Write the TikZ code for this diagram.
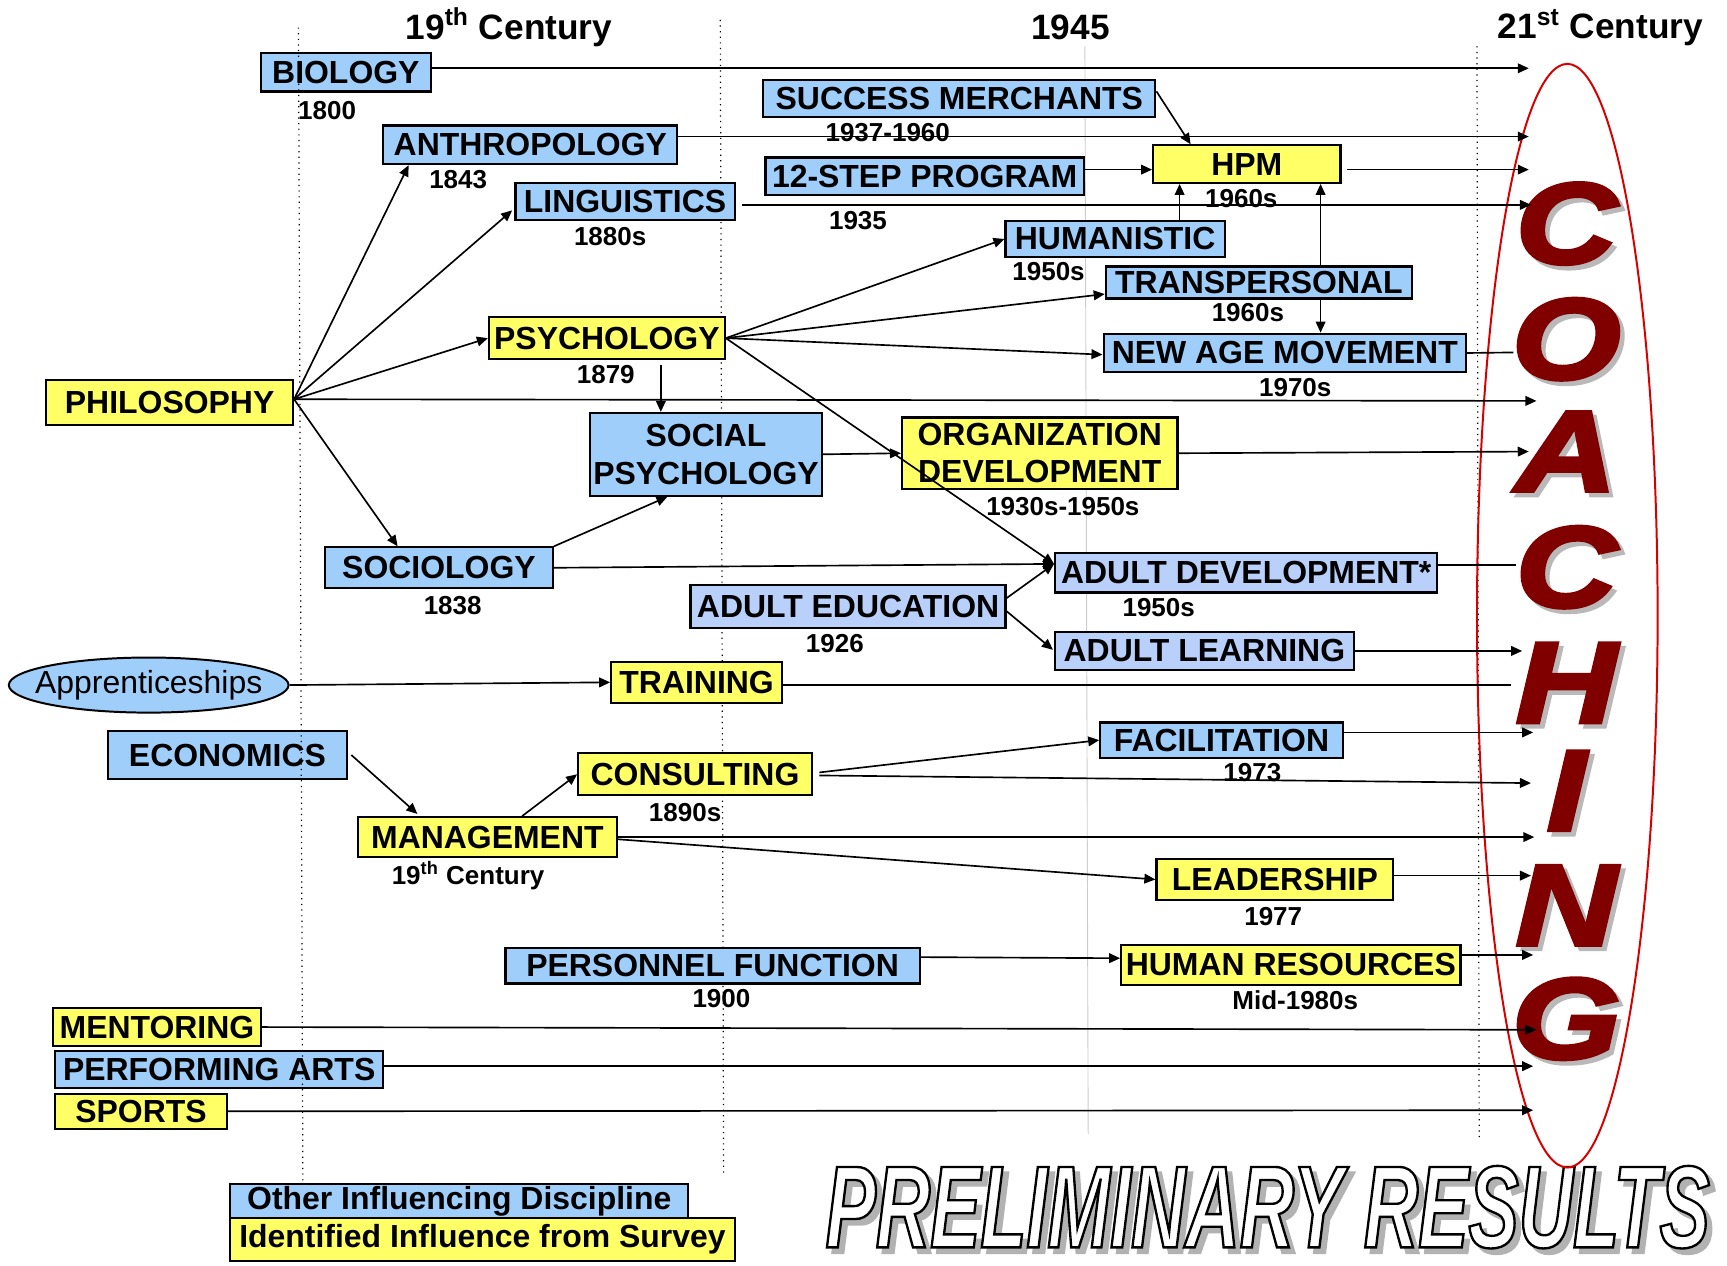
\documentclass[tikz,border=0pt]{standalone}
\usepackage{fontspec}
\setmainfont{Liberation Sans}
\newfontfamily\coachfont{Liberation Sans}[FakeBold=3.5,FakeStretch=1.22]
\newfontfamily\prelfont{Liberation Sans}[FakeBold=2,FakeStretch=0.645]
\usetikzlibrary{arrows.meta,calc,shapes.geometric}
\definecolor{bblue}{RGB}{160,206,250}
\definecolor{ablue}{RGB}{184,208,250}
\definecolor{byel}{RGB}{255,255,102}
\definecolor{dred}{RGB}{128,0,0}
\definecolor{ered}{RGB}{215,0,0}
\begin{document}
\begin{tikzpicture}[x=0.5pt,y=-0.5pt,
  box/.style={draw=black,line width=1pt,inner sep=0pt,align=center,
    font=\fontsize{14.5}{17}\selectfont\bfseries},
  bl/.style={box,fill=bblue},
  yl/.style={box,fill=byel},
  al/.style={box,fill=ablue},
  date/.style={inner sep=0pt,font=\fontsize{11.8}{13}\selectfont\bfseries},
  hdr/.style={inner sep=0pt,font=\fontsize{16}{18}\selectfont\bfseries},
  arr/.style={-{Triangle[length=5pt,width=4.4pt]},line width=0.75pt},
  ln/.style={line width=0.75pt},
  guide/.style={dotted,line width=0.55pt},
  coach/.style={inner sep=0pt,font=\coachfont\fontsize{52}{52}\selectfont\bfseries\itshape},
  prel/.style={inner sep=0pt,font=\prelfont\fontsize{53}{53}\selectfont\bfseries\itshape}]
\useasboundingbox (0,0) rectangle (1568,1149);

% PRELIMINARY RESULTS (outlined text with shadow)
\node[prel,text=gray!60] (prs) at (1156,1101) {PRELIMINARY RESULTS};
\node[prel,text=white] (prt) at (1151,1096) {\special{pdf:literal direct 0 G}PRELIMINARY RESULTS};

% guide lines (behind)
\draw[guide] (654,18) -- (657,1065);
\draw[gray!40,line width=0.4pt] (985,42) -- (988,1030);
\draw[guide] (1341,42) -- (1343,1035);

% headers
\node[hdr] (h1) at (462,25) {19\textsuperscript{th} Century};
\node[hdr] (h2) at (972,25) {1945};
\node[hdr] (h3) at (1453,25) {21\textsuperscript{st} Century};

% boxes
\node[bl,minimum width=77pt,minimum height=17.5pt] (bio) at (314,65.5) {BIOLOGY};
\node[bl,minimum width=178pt,minimum height=16.5pt] (sm) at (871,89.5) {SUCCESS MERCHANTS};
\node[bl,minimum width=133.5pt,minimum height=17.5pt] (anth) at (481.5,131.5) {ANTHROPOLOGY};
\node[bl,minimum width=144.5pt,minimum height=17pt] (step) at (839.5,160) {12-STEP PROGRAM};
\node[yl,minimum width=85pt,minimum height=17pt] (hpm) at (1132,149) {HPM};
\node[bl,minimum width=99.5pt,minimum height=17pt] (ling) at (567.5,183) {LINGUISTICS};
\node[bl,minimum width=99.5pt,minimum height=16pt] (hum) at (1012.5,217) {HUMANISTIC};
\node[bl,minimum width=139pt,minimum height=14.5pt] (trans) at (1143,256.5) {TRANSPERSONAL};
\node[yl,minimum width=107pt,minimum height=19pt] (psych) at (551,307) {PSYCHOLOGY};
\node[bl,minimum width=164.5pt,minimum height=17.5pt] (newage) at (1166.5,320.5) {NEW AGE MOVEMENT};
\node[yl,minimum width=112pt,minimum height=20.5pt] (phil) at (154,365.5) {PHILOSOPHY};
\node[bl,minimum width=105pt,minimum height=37.5pt] (socpsy) at (641,412.5) {SOCIAL\\PSYCHOLOGY};
\node[yl,minimum width=125pt,minimum height=32.5pt] (orgdev) at (944,411.5) {ORGANIZATION\\DEVELOPMENT};
\node[bl,minimum width=103.5pt,minimum height=18.5pt] (soc) at (398.5,515.5) {SOCIOLOGY};
\node[al,minimum width=173.5pt,minimum height=18pt] (adev) at (1131.5,520) {ADULT DEVELOPMENT*};
\node[al,minimum width=143pt,minimum height=19.5pt] (aedu) at (770,550.5) {ADULT EDUCATION};
\node[al,minimum width=135.5pt,minimum height=17pt] (alearn) at (1093.5,591) {ADULT LEARNING};
\node[draw=black,ellipse,fill=bblue,line width=0.9pt,inner sep=0pt,minimum width=127pt,minimum height=25pt,
  font=\fontsize{14.5}{16}\selectfont] (appr) at (135,622) {\makebox[0pt]{Apprenticeships}};
\node[yl,minimum width=77.5pt,minimum height=18.5pt] (train) at (632.5,619.5) {TRAINING};
\node[bl,minimum width=108.5pt,minimum height=21.5pt] (econ) at (206.5,685.5) {ECONOMICS};
\node[bl,minimum width=110pt,minimum height=16pt] (facil) at (1109,672) {FACILITATION};
\node[yl,minimum width=106pt,minimum height=19pt] (cons) at (631,703) {CONSULTING};
\node[yl,minimum width=117.5pt,minimum height=18pt] (mgmt) at (442.5,760) {MANAGEMENT};
\node[yl,minimum width=107.5pt,minimum height=18.5pt] (lead) at (1157.5,798.5) {LEADERSHIP};
\node[bl,minimum width=188pt,minimum height=16pt] (pers) at (647,877) {PERSONNEL FUNCTION};
\node[yl,minimum width=154pt,minimum height=18pt] (hr) at (1172,876) {HUMAN RESOURCES};
\node[yl,minimum width=94.5pt,minimum height=17.5pt] (ment) at (142.5,932.5) {MENTORING};
\node[bl,minimum width=149pt,minimum height=17pt] (perf) at (199,971) {PERFORMING ARTS};
\node[yl,minimum width=78pt,minimum height=16pt] (sports) at (128,1009) {SPORTS};
\node[bl,minimum width=208pt,minimum height=16pt] (leg1) at (417,1091) {Other Influencing Discipline};
\node[yl,minimum width=229pt,minimum height=19.5pt] (leg2) at (438,1125.5) {Identified Influence from Survey};

% dates
\node[date] (d1) at (297,100) {1800};
\node[date] (d2) at (806,120) {1937-1960};
\node[date] (d3) at (416,163) {1843};
\node[date] (d4) at (779,200) {1935};
\node[date] (d5) at (1127,180) {1960s};
\node[date] (d6) at (554,215) {1880s};
\node[date] (d7) at (952,247) {1950s};
\node[date] (d8) at (1133,284) {1960s};
\node[date] (d9) at (550,340) {1879};
\node[date] (d10) at (1176,352) {1970s};
\node[date] (d11) at (965,460) {1930s-1950s};
\node[date] (d12) at (411,550) {1838};
\node[date] (d13) at (1052,552) {1950s};
\node[date] (d14) at (758,584) {1926};
\node[date] (d15) at (1137,701) {1973};
\node[date] (d16) at (622,738) {1890s};
\node[date] (d17) at (425,795) {19\textsuperscript{th} Century};
\node[date] (d18) at (1156,832) {1977};
\node[date] (d19) at (655,907) {1900};
\node[date] (d20) at (1176,908) {Mid-1980s};

% guide line in front
\draw[guide] (271,25) -- (275,1072);

% red ellipse
\draw[ered,line width=0.9pt] (1423,559) ellipse [x radius=82,y radius=501];

% COACHING
\foreach \l/\yy [count=\i] in {C/203,O/308,A/410,C/515,H/620,I/718,N/822,G/925}{
  \node[coach,text=gray!55] (cs\i) at (1426,\yy+4) {\l};
  \node[coach,text=dred] (cl\i) at (1422,\yy) {\l};
}

% free ends
\coordinate (eBio) at (1388,62);
\coordinate (eAnth) at (1388,124);
\coordinate (eHpm) at (1388,154);
\coordinate (eLing) at (1390,186);
\coordinate (eNew) at (1374,320);
\coordinate (ePhil) at (1395,364);
\coordinate (eOrg) at (1388,410);
\coordinate (eAdev) at (1376,513);
\coordinate (eAl) at (1382,591);
\coordinate (eTrain) at (1372,622);
\coordinate (eFac) at (1392,665);
\coordinate (eCons) at (1390,711);
\coordinate (eMg) at (1393,760);
\coordinate (eLead) at (1390,795);
\coordinate (eHr) at (1392,867);
\coordinate (eMent) at (1395,935);
\coordinate (ePerf) at (1392,968);
\coordinate (eSp) at (1392,1008);
\coordinate (p0) at ($(phil.east)+(0,-3)$);

% connectors
\draw[arr] ($(bio.east)+(0,-3.5)$) -- (eBio);
\draw[arr] ($(anth.east)+(0,-7.5)$) -- (eAnth);
\draw[arr] ($(sm.east)+(0,-6.5)$) -- ($(hpm.north west)+(35,0)$);
\draw[arr] ($(step.east)+(0,-6)$) -- ($(hpm.west)+(0,5)$);
\draw[arr,shorten <=2.5pt] ($(hpm.east)+(0,5)$) -- (eHpm);
\draw[arr,shorten <=3pt] ($(ling.east)+(0,3)$) -- (eLing);
\draw[arr] ($(hum.north west)+(159,0)$) -- ($(hpm.south west)+(25,0)$);
\draw[arr] ($(trans.north west)+(196,0)$) -- ($(hpm.south west)+(153,0)$);
\draw[arr] ($(trans.south west)+(196,0)$) -- ($(newage.north west)+(198,0)$);
\draw[arr] (psych.east) -- (hum.west);
\draw[arr] (psych.east) -- ($(trans.west)+(0,10.5)$);
\draw[arr] (psych.east) -- ($(newage.west)+(0,1.5)$);
\draw[arr] (psych.east) -- ($(adev.west)+(0,-8)$);
\draw[arr] ($(psych.south)+(49,4)$) -- ($(socpsy.north)+(-41,0)$);
\draw[ln] (newage.east) -- (eNew);
\draw[arr] (p0) -- ($(anth.south west)+(24,0)$);
\draw[arr] (p0) -- ($(ling.west)+(-2,8)$);
\draw[arr] (p0) -- (psych.west);
\draw[arr] (p0) -- ($(soc.north west)+(67,0)$);
\draw[arr] (p0) -- (ePhil);
\draw[arr] (socpsy.east) -- (orgdev.west);
\draw[arr] (soc.north east) -- ($(socpsy.south west)+(71,0)$);
\draw[arr] (soc.east) -- ($(adev.west)+(0,-8)$);
\draw[arr] (orgdev.east) -- (eOrg);
\draw[ln] ($(adev.east)+(0,-7)$) -- (eAdev);
\draw[arr] ($(aedu.east)+(0,-7.5)$) -- ($(adev.west)+(0,-8)$);
\draw[arr] ($(aedu.east)+(0,4.5)$) -- ($(alearn.west)+(-1,-1)$);
\draw[arr] (alearn.east) -- (eAl);
\draw[arr] (appr.east) -- (train.west);
\draw[ln] ($(train.east)+(0,2.5)$) -- (eTrain);
\draw[arr] ($(econ.east)+(3,0)$) -- ($(mgmt.north west)+(55,-2)$);
\draw[arr] ($(mgmt.north west)+(150,0)$) -- (cons.west);
\draw[arr,shorten <=3pt] ($(cons.east)+(0,-1)$) -- (facil.west);
\draw[arr,shorten <=3pt] ($(cons.east)+(0,1)$) -- (eCons);
\draw[arr] ($(facil.east)+(0,-7)$) -- (eFac);
\draw[arr] (mgmt.east) -- (eMg);
\draw[arr] ($(mgmt.east)+(0,2)$) -- (lead.west);
\draw[arr] ($(lead.east)+(0,-3.5)$) -- (eLead);
\draw[arr] ($(pers.east)+(0,-8)$) -- ($(hr.west)+(0,-6)$);
\draw[arr] ($(hr.east)+(0,-9)$) -- (eHr);
\draw[arr] (ment.east) -- (eMent);
\draw[arr] ($(perf.east)+(0,-3)$) -- (ePerf);
\draw[arr] (sports.east) -- (eSp);
\end{tikzpicture}
\end{document}
